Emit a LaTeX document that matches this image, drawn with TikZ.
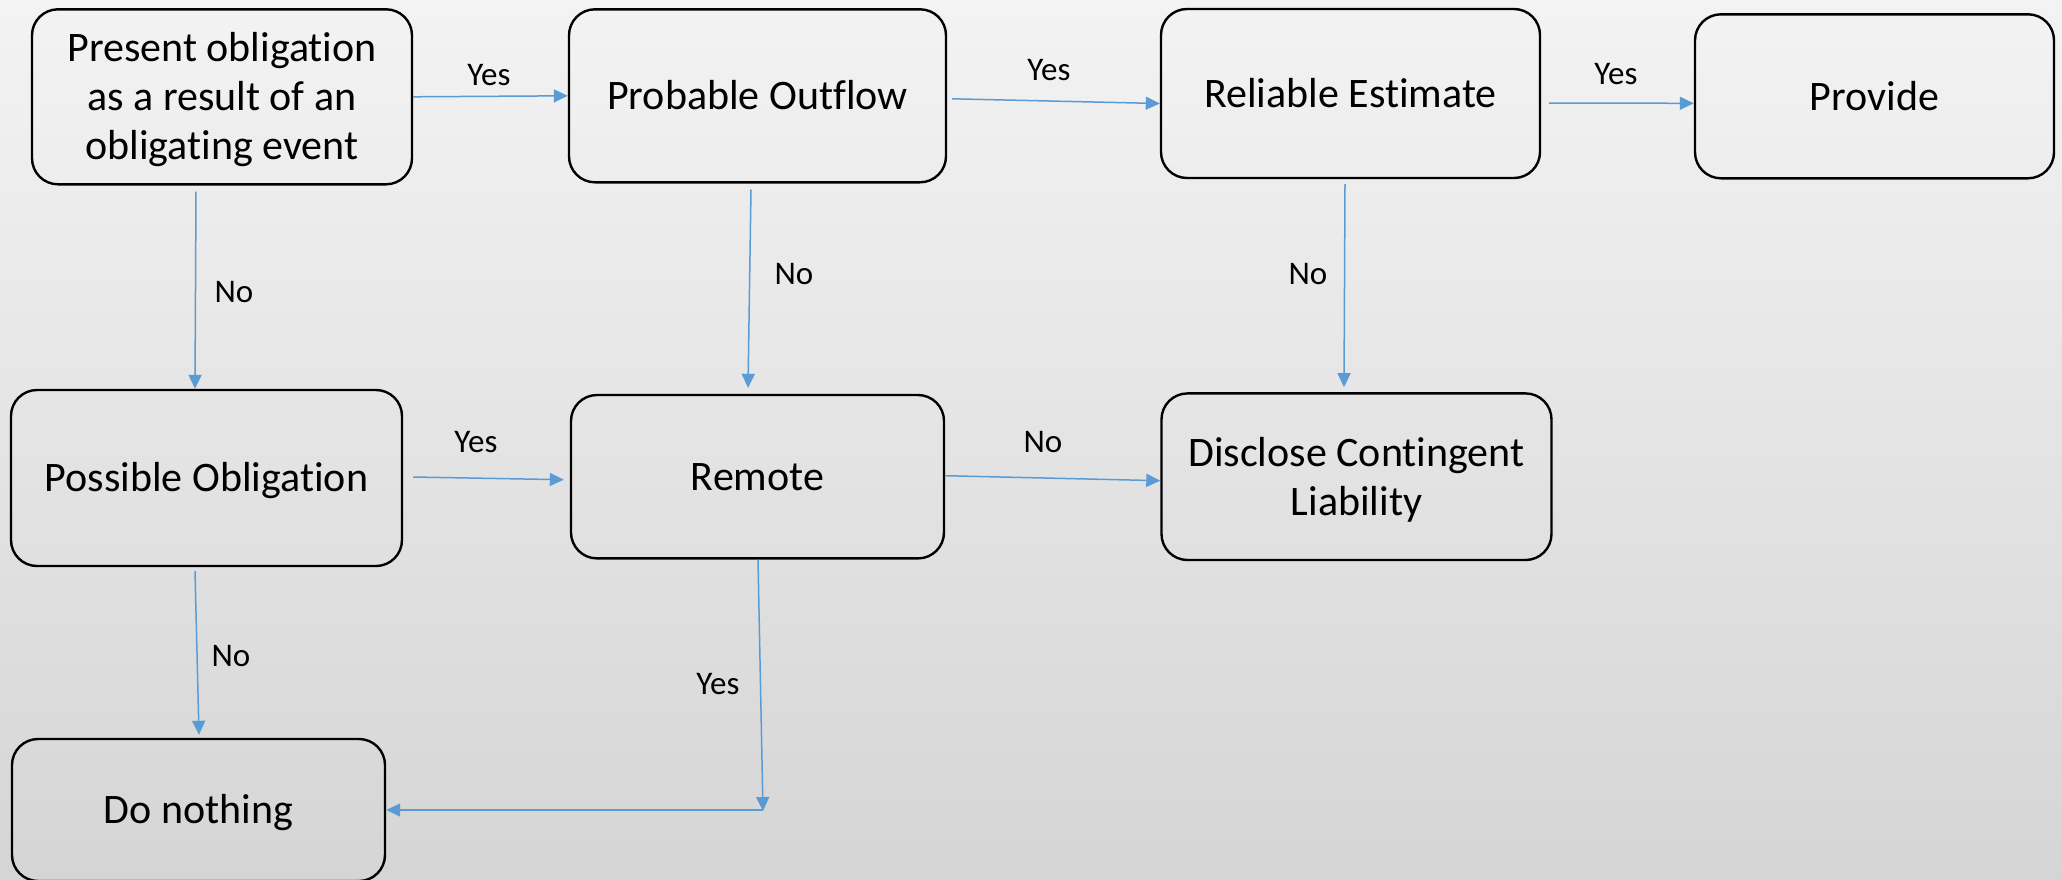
\documentclass[tikz,border=0pt]{standalone}
\usepackage{fontspec}
\setmainfont{Carlito}[Ligatures=NoCommon]
\usetikzlibrary{arrows.meta}
\definecolor{flowblue}{HTML}{5B9BD5}
\definecolor{bgtop}{HTML}{F3F3F3}
\definecolor{bgbottom}{HTML}{D5D5D5}
% invisible line strut: fixes ascent/descent so text sits like in the slide
\newcommand\linestrut{\rule[-5.2pt]{0pt}{24.2pt}}
\begin{document}
\begin{tikzpicture}[x=0.5pt,y=-0.5pt,
  box/.style={draw=black, line width=1.2pt, rounded corners=13pt, align=center,
    inner sep=0pt, font=\fontsize{21}{24.5}\selectfont},
  flow/.style={draw=flowblue, line width=0.75pt, -{Triangle[length=7pt,width=6.5pt]}},
  lab/.style={font=\fontsize{16.5}{20}\selectfont, inner sep=0pt}]

% canvas and page gradient
\useasboundingbox (0,0) rectangle (2062,879);
\clip (0,0) rectangle (2062,879);
\shade[top color=bgtop, bottom color=bgbottom] (0,0) rectangle (2062,879);

% decision boxes
\node[box, minimum width=190pt, minimum height=87.5pt] (b1) at (222,96.8)
  {\linestrut Present obligation\\as a result of an\\obligating event\linestrut};
\node[box, minimum width=188.5pt, minimum height=86.5pt] (b2) at (757.5,95.8)
  {\linestrut Probable Outflow};
\node[box, minimum width=189.5pt, minimum height=84.5pt] (b3) at (1350.5,93.5)
  {\linestrut Reliable Estimate};
\node[box, minimum width=179.5pt, minimum height=82pt] (b4) at (1874.5,96.3)
  {\linestrut Provide};
\node[box, minimum width=195.5pt, minimum height=88pt] (b5) at (206.5,478)
  {\linestrut Possible Obligation};
\node[box, minimum width=186.5pt, minimum height=81.7pt] (b6) at (757.5,476.7)
  {\linestrut Remote};
\node[box, minimum width=195pt, minimum height=83.3pt] (b7) at (1356.5,476.7)
  {\linestrut Disclose Contingent\\Liability\linestrut};
\node[box, minimum width=186.5pt, minimum height=71pt] (b8) at (198.5,810)
  {\linestrut Do nothing};

% connectors
\draw[flow] (b1.east) -- (b2.west);
\draw[flow] ([shift={(5,3)}]b2.east) -- ([shift={(0,10)}]b3.west);
\draw[flow] ([shift={(8,9.5)}]b3.east) -- ([shift={(0,7)}]b4.west);
\draw[flow] ([shift={(-26,6)}]b1.south) -- ([shift={(-11.5,0)}]b5.north);
\draw[flow] ([shift={(-6.5,6)}]b2.south) -- ([shift={(-9.5,-6)}]b6.north);
\draw[flow] ([shift={(-5.5,5)}]b3.south) -- ([shift={(-12.5,-5)}]b7.north);
\draw[flow] ([shift={(10,-1)}]b5.east) -- ([shift={(-6,3)}]b6.west);
\draw[flow] ([shift={(0,-1)}]b6.east) -- ([shift={(0,4)}]b7.west);
\draw[flow] ([shift={(-11.5,4)}]b5.south) -- ([shift={(0.5,-3)}]b8.north);
\coordinate (turn) at (763,811);
\draw[flow] ([shift={(0.5,0)}]b6.south) -- (turn);
\draw[flow] ([shift={(0,-1)}]turn) -- (b8.east);

% branch labels
\node[lab] (y1) at (489,75) {Yes};
\node[lab] (y2) at (1049,70) {Yes};
\node[lab] (y3) at (1616,74) {Yes};
\node[lab] (n1) at (234,292) {No};
\node[lab] (n2) at (794,274) {No};
\node[lab] (n3) at (1308,274) {No};
\node[lab] (y4) at (476,442) {Yes};
\node[lab] (n4) at (1043,442) {No};
\node[lab] (n5) at (231,656) {No};
\node[lab] (y5) at (718,684) {Yes};
\end{tikzpicture}
\end{document}
